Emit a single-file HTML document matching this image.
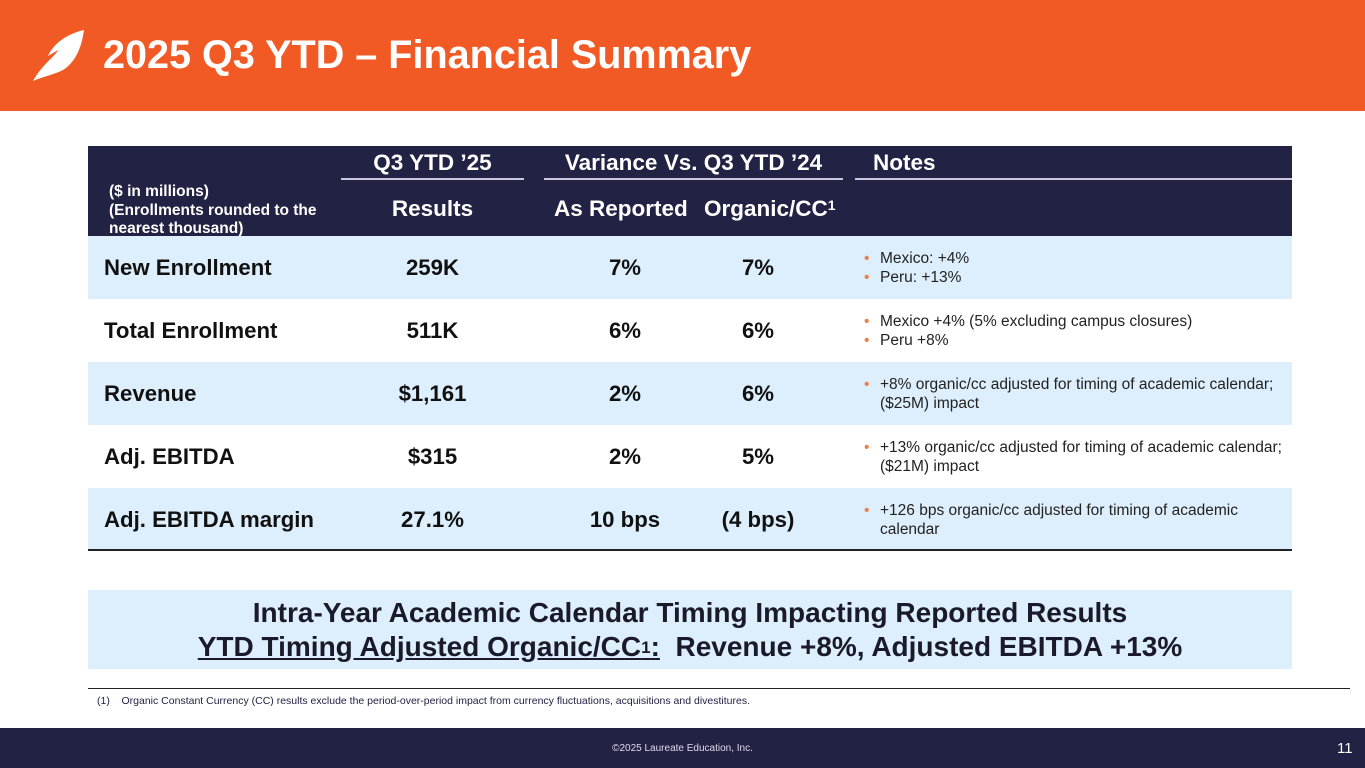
<!DOCTYPE html>
<html><head><meta charset="utf-8"><style>
*{margin:0;padding:0;box-sizing:border-box}
body{width:1365px;height:768px;position:relative;overflow:hidden;background:#fff;font-family:"Liberation Sans",Arial,sans-serif}
.a{position:absolute}
.hdr{color:#fff;font-weight:bold;font-size:22.5px;white-space:nowrap}
.row{position:absolute;left:88px;width:1204px;height:63px}
.lbl{position:absolute;left:16px;top:0;line-height:63px;font-weight:bold;font-size:22.2px;color:#111;white-space:nowrap}
.c{position:absolute;top:0;line-height:63px;font-weight:bold;font-size:22.2px;color:#111;text-align:center;white-space:nowrap}
.notes{position:absolute;left:772px;font-size:15.5px;color:#222;line-height:19px;white-space:nowrap}
.notes div{padding-left:20px;position:relative}
.notes div:before{content:"•";position:absolute;left:4px;color:#E8824A}
</style></head><body>
<div class="a" style="left:0;top:0;width:1365px;height:111px;background:#F15A24"></div>
<svg class="a" style="left:30px;top:28px" width="56" height="56" viewBox="0 0 56 56"><path d="M54 2 C40 5 24 14 18 28 L28 22 C24 30 14 34 3 53 C14 48 28 46 36 40 C48 30 52 16 54 2Z" fill="#fff"/></svg>
<div class="a" style="left:103px;top:30px;font-size:39.6px;font-weight:bold;color:#fff;line-height:50px">2025 Q3 YTD – Financial Summary</div>

<div class="a" style="left:88px;top:146px;width:1204px;height:90px;background:#222244"></div>
<div class="a hdr" style="left:341px;width:183px;top:150px;text-align:center">Q3 YTD ’25</div>
<div class="a hdr" style="left:544px;width:299px;top:150px;text-align:center">Variance Vs. Q3 YTD ’24</div>
<div class="a hdr" style="left:873px;top:150px">Notes</div>
<div class="a" style="left:341px;top:178px;width:183px;height:2px;background:#c8c8dc"></div>
<div class="a" style="left:544px;top:178px;width:299px;height:2px;background:#c8c8dc"></div>
<div class="a" style="left:855px;top:178px;width:437px;height:2px;background:#c8c8dc"></div>
<div class="a" style="left:109px;top:183px;color:#fff;font-weight:bold;font-size:15.5px;line-height:18.5px">($ in millions)<br>(Enrollments rounded to the<br>nearest thousand)</div>
<div class="a hdr" style="left:341px;width:183px;top:196px;text-align:center">Results</div>
<div class="a hdr" style="left:554px;top:196px">As Reported</div>
<div class="a hdr" style="left:704px;top:196px">Organic/CC<span style="font-size:14px;vertical-align:top;position:relative;top:1px">1</span></div>

<div class="row" style="top:236px;background:#DDEEFC">
<div class="lbl">New Enrollment</div><div class="c" style="left:253px;width:183px">259K</div><div class="c" style="left:487px;width:100px">7%</div><div class="c" style="left:620px;width:100px">7%</div>
<div class="notes" style="top:13px"><div>Mexico: +4%</div><div>Peru: +13%</div></div></div>
<div class="row" style="top:299px">
<div class="lbl">Total Enrollment</div><div class="c" style="left:253px;width:183px">511K</div><div class="c" style="left:487px;width:100px">6%</div><div class="c" style="left:620px;width:100px">6%</div>
<div class="notes" style="top:13px"><div>Mexico +4% (5% excluding campus closures)</div><div>Peru +8%</div></div></div>
<div class="row" style="top:362px;background:#DDEEFC">
<div class="lbl">Revenue</div><div class="c" style="left:253px;width:183px">$1,161</div><div class="c" style="left:487px;width:100px">2%</div><div class="c" style="left:620px;width:100px">6%</div>
<div class="notes" style="top:13px"><div>+8% organic/cc adjusted for timing of academic calendar;<br>($25M) impact</div></div></div>
<div class="row" style="top:425px">
<div class="lbl">Adj. EBITDA</div><div class="c" style="left:253px;width:183px">$315</div><div class="c" style="left:487px;width:100px">2%</div><div class="c" style="left:620px;width:100px">5%</div>
<div class="notes" style="top:13px"><div>+13% organic/cc adjusted for timing of academic calendar;<br>($21M) impact</div></div></div>
<div class="row" style="top:488px;height:62px;background:#DDEEFC">
<div class="lbl">Adj. EBITDA margin</div><div class="c" style="left:253px;width:183px">27.1%</div><div class="c" style="left:487px;width:100px">10 bps</div><div class="c" style="left:620px;width:100px">(4 bps)</div>
<div class="notes" style="top:13px"><div>+126 bps organic/cc adjusted for timing of academic<br>calendar</div></div></div>
<div class="a" style="left:88px;top:549px;width:1204px;height:2px;background:#222"></div>

<div class="a" style="left:88px;top:590px;width:1204px;height:79px;background:#DDEEFC;text-align:center;color:#1a1a2a;font-weight:bold;font-size:28px;line-height:34px;padding-top:6px;white-space:nowrap">Intra-Year Academic Calendar Timing Impacting Reported Results<br><u>YTD Timing Adjusted Organic/CC<span style="font-size:17px;vertical-align:top;position:relative;top:1px">1</span>:</u>&nbsp; Revenue +8%, Adjusted EBITDA +13%</div>

<div class="a" style="left:88px;top:688px;width:1262px;height:1px;background:#222"></div>
<div class="a" style="left:97px;top:695px;font-size:10.5px;color:#222244;white-space:nowrap">(1)&nbsp;&nbsp;&nbsp; Organic Constant Currency (CC) results exclude the period-over-period impact from currency fluctuations, acquisitions and divestitures.</div>

<div class="a" style="left:0;top:728px;width:1365px;height:40px;background:#222244"></div>
<div class="a" style="left:0;width:1365px;top:743px;text-align:center;font-size:10px;color:#dde">©2025 Laureate Education, Inc.</div>
<div class="a" style="left:1337px;top:740px;font-size:15px;color:#fff">11</div>
</body></html>
